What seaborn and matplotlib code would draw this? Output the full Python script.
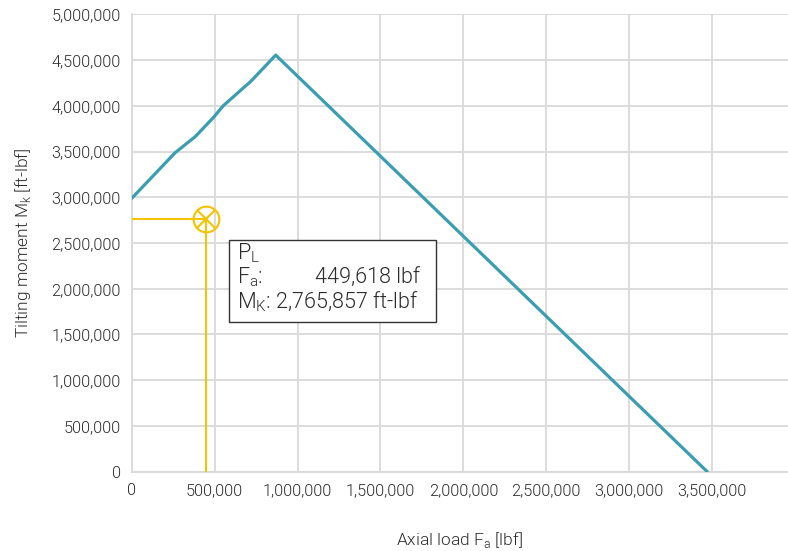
import matplotlib
matplotlib.use("Agg")
import matplotlib.pyplot as plt
import seaborn as sns
import pandas as pd
from matplotlib.ticker import FuncFormatter, MultipleLocator
from matplotlib.patches import Rectangle

# Data
axial_load = [0, 262000, 382000, 492000, 552000, 720000, 868500, 3471000]
tilting_moment = [2988000, 3487000, 3661000, 3870000, 4000000, 4270000, 4554000, 0]
point_fa = 449618
point_mk = 2765857
point_label = "P"
point_sub = "L"
xticks = [0, 500000, 1000000, 1500000, 2000000, 2500000, 3000000, 3500000]

sns.set_theme(style="white")
plt.rcParams['font.family'] = ['Roboto', 'DejaVu Sans']
plt.rcParams['font.weight'] = 300

text_color = "#2b2b2b"
grid_color = "#d9d9d9"
line_color = "#3a9eb0"
yellow = "#f5c300"

fig = plt.figure(figsize=(7.88, 5.51), dpi=100)
ax = fig.add_axes([131.7/788, (551-471.7)/551, (788-131.7)/788, (471.7-14.3)/551])

df = pd.DataFrame({"Fa": axial_load, "Mk": tilting_moment})
sns.lineplot(data=df, x="Fa", y="Mk", ax=ax, color=line_color, linewidth=2.3,
             sort=False, estimator=None, zorder=3)

# yellow guide lines and marker
ax.plot([0, point_fa], [point_mk, point_mk], color=yellow, linewidth=1.5, zorder=4)
ax.plot([point_fa, point_fa], [point_mk, 0], color=yellow, linewidth=1.5, zorder=4)
ax.plot([point_fa], [point_mk], marker='o', markersize=18.5, markerfacecolor='none',
        markeredgecolor=yellow, markeredgewidth=1.5, zorder=5)
ax.plot([point_fa], [point_mk], marker='x', markersize=13, markeredgecolor=yellow,
        markeredgewidth=1.5, zorder=5)

ax.set_xlim(0, 3958000)
ax.set_ylim(0, 5000000)
ax.yaxis.set_major_locator(MultipleLocator(500000))
fmt = FuncFormatter(lambda v, p: f"{int(round(v)):,}")
ax.xaxis.set_major_formatter(fmt)
ax.yaxis.set_major_formatter(fmt)
ax.set_xticks(xticks)

ax.grid(True, color=grid_color, linewidth=1.3)
for s in ["top", "right"]:
    ax.spines[s].set_visible(False)
for s in ["left", "bottom"]:
    ax.spines[s].set_color(grid_color)
    ax.spines[s].set_linewidth(1.3)
ax.tick_params(axis='both', length=0, labelsize=11.7, colors=text_color, pad=8)
for lab in ax.get_xticklabels() + ax.get_yticklabels():
    lab.set_fontweight(300)

ax.set_xlabel(r"Axial load F$_\mathregular{a}$ [lbf]", fontsize=12.5, color=text_color,
              labelpad=23, fontweight=300)
ax.set_ylabel(r"Tilting moment M$_\mathregular{k}$ [ft-lbf]", fontsize=12.5, color=text_color,
              labelpad=13, fontweight=300)

# annotation box
box = Rectangle((0.149, 0.327), 0.315, 0.180, transform=ax.transAxes,
                facecolor="white", edgecolor="#333333", linewidth=1.0, zorder=6)
ax.add_patch(box)
fs = 15.5
ax.text(0.161, 0.478, f"{point_label}$_\\mathregular{{{point_sub}}}$", transform=ax.transAxes,
        fontsize=fs, color=text_color, va="center", ha="left", zorder=7, fontweight=300)
ax.text(0.161, 0.425, r"F$_\mathregular{a}$:", transform=ax.transAxes,
        fontsize=fs, color=text_color, va="center", ha="left", zorder=7, fontweight=300)
ax.text(0.440, 0.425, f"{point_fa:,} lbf", transform=ax.transAxes,
        fontsize=fs, color=text_color, va="center", ha="right", zorder=7, fontweight=300)
ax.text(0.161, 0.372, r"M$_\mathregular{K}$: " + f"{point_mk:,} ft-lbf", transform=ax.transAxes,
        fontsize=fs, color=text_color, va="center", ha="left", zorder=7, fontweight=300)

fig.savefig("out.png", dpi=100)
